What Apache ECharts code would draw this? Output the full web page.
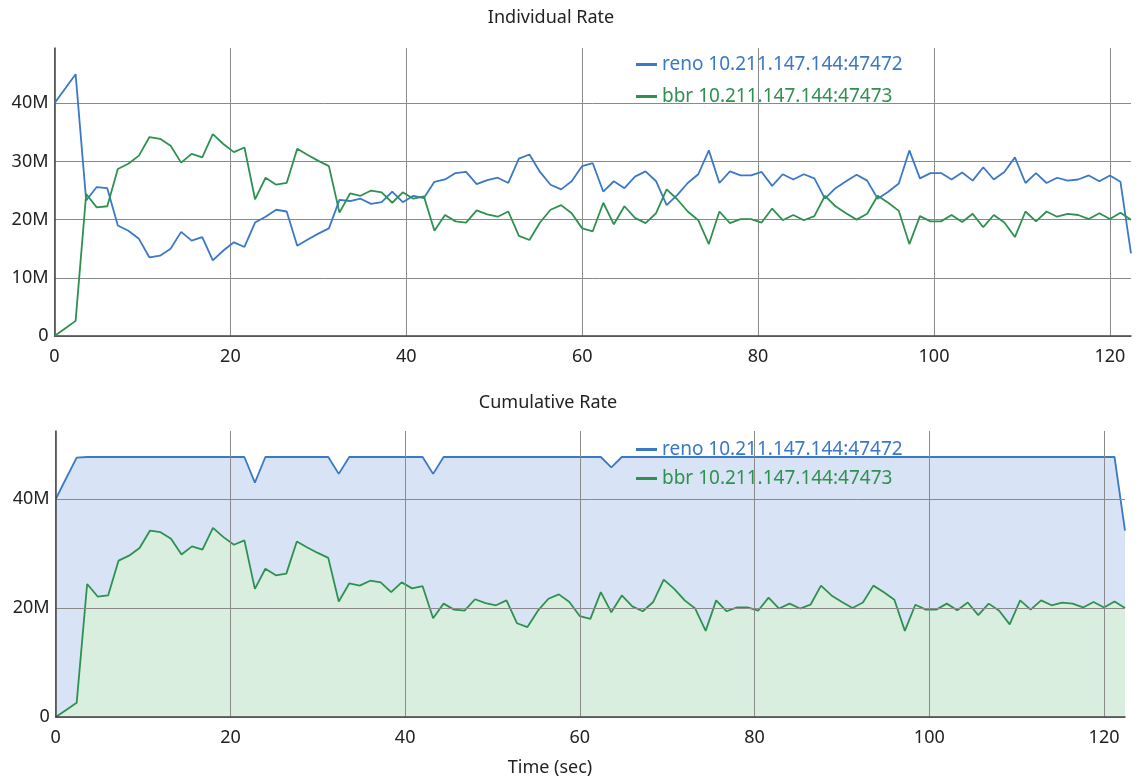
<!DOCTYPE html>
<html>
<head>
<meta charset="utf-8">
<script src="https://cdn.jsdelivr.net/npm/echarts@6/dist/echarts.min.js"></script>
<style>
  html, body { margin: 0; padding: 0; background: #fff; }
  #main { width: 1141px; height: 776px; }
</style>
</head>
<body>
<div id="main"></div>
<script>
// sample times (sec), one sample every ~1.2 s
var times = [
  0, 1.2, 2.4, 3.6, 4.8, 6, 7.2, 8.4, 9.6, 10.8,
  12, 13.2, 14.4, 15.6, 16.8, 18, 19.2, 20.4, 21.6, 22.8,
  24, 25.2, 26.4, 27.6, 28.8, 30, 31.2, 32.4, 33.6, 34.8,
  36, 37.2, 38.4, 39.6, 40.8, 42, 43.2, 44.4, 45.6, 46.8,
  48, 49.2, 50.4, 51.6, 52.8, 54, 55.2, 56.4, 57.6, 58.8,
  60, 61.2, 62.4, 63.6, 64.8, 66, 67.2, 68.4, 69.6, 70.8,
  72, 73.2, 74.4, 75.6, 76.8, 78, 79.2, 80.4, 81.6, 82.8,
  84, 85.2, 86.4, 87.6, 88.8, 90, 91.2, 92.4, 93.6, 94.8,
  96, 97.2, 98.4, 99.6, 100.8, 102, 103.2, 104.4, 105.6, 106.8,
  108, 109.2, 110.4, 111.6, 112.8, 114, 115.2, 116.4, 117.6, 118.8,
  120, 121.2, 122.4
]

// rates in Mbit/s
var renoRate = [
  40.0, 42.5, 45.0, 23.3, 25.6, 25.4, 19.0, 18.1, 16.7, 13.5,
  13.8, 15.0, 17.9, 16.4, 17.0, 13.0, 14.7, 16.1, 15.3, 19.5,
  20.5, 21.7, 21.4, 15.5, 16.6, 17.6, 18.5, 23.4, 23.2, 23.6,
  22.7, 23.0, 24.8, 23.0, 24.1, 23.7, 26.5, 26.9, 28.0, 28.2,
  26.1, 26.8, 27.2, 26.3, 30.5, 31.2, 28.2, 26.0, 25.2, 26.6,
  29.2, 29.7, 24.8, 26.6, 25.4, 27.4, 28.3, 26.6, 22.5, 24.2,
  26.3, 27.8, 31.9, 26.3, 28.3, 27.6, 27.6, 28.2, 25.8, 27.8,
  26.9, 27.8, 27.1, 23.6, 25.4, 26.6, 27.7, 26.7, 23.6, 24.8,
  26.2, 31.9, 27.1, 28.0, 28.0, 26.9, 28.1, 26.7, 29.0, 26.9,
  28.2, 30.7, 26.3, 28.0, 26.3, 27.2, 26.7, 26.9, 27.6, 26.6,
  27.6, 26.5, 14.2
]

var bbrRate = [
  0, 1.3, 2.6, 24.4, 22.1, 22.3, 28.7, 29.6, 31.0, 34.2,
  33.9, 32.7, 29.8, 31.3, 30.7, 34.7, 33.0, 31.6, 32.4, 23.5,
  27.2, 26.0, 26.3, 32.2, 31.1, 30.1, 29.2, 21.2, 24.5, 24.1,
  25.0, 24.7, 22.9, 24.7, 23.6, 24.0, 18.1, 20.8, 19.7, 19.5,
  21.6, 20.9, 20.5, 21.4, 17.2, 16.5, 19.5, 21.7, 22.5, 21.1,
  18.5, 18.0, 22.9, 19.2, 22.3, 20.3, 19.4, 21.1, 25.2, 23.5,
  21.4, 19.9, 15.8, 21.4, 19.4, 20.1, 20.1, 19.5, 21.9, 19.9,
  20.8, 19.9, 20.6, 24.1, 22.3, 21.1, 20.0, 21.0, 24.1, 22.9,
  21.5, 15.8, 20.6, 19.7, 19.7, 20.8, 19.6, 21.0, 18.7, 20.8,
  19.5, 17.0, 21.4, 19.7, 21.4, 20.5, 21.0, 20.8, 20.1, 21.1,
  20.1, 21.2, 20.0
]

var renoName = 'reno 10.211.147.144:47472'
var bbrName = 'bbr 10.211.147.144:47473'
var blue = '#3a78c8'
var green = '#2e9150'
var font = 'Noto Sans'

function pairs(vals) {
  return times.map(function (t, i) { return [t, vals[i]] })
}

var myChart = echarts.init(document.getElementById('main'))

function xAxisOf(idx) {
  return {
    type: 'value',
    gridIndex: idx,
    position: 'bottom',
    z: 5,
    min: 0,
    max: 122.4,
    interval: 20,
    axisLine: { lineStyle: { color: '#444', width: 1.5 } },
    axisTick: { show: false },
    axisLabel: { fontFamily: font, fontSize: 18, color: '#222', margin: 12, showMaxLabel: false },
    splitLine: { show: true, showMaxLine: false, lineStyle: { color: '#8a8a8a', width: 1 } }
  }
}

function yAxisOf(idx, step) {
  return {
    type: 'value',
    gridIndex: idx,
    z: 5,
    min: 0,
    max: function (v) { return v.max * 1.1 },
    interval: step,
    axisLine: { show: true, lineStyle: { color: '#444', width: 1.5 } },
    axisTick: { show: false },
    axisLabel: {
      fontFamily: font, fontSize: 18, color: '#222', margin: 6, showMaxLabel: false,
      formatter: function (v) { return v === 0 ? '0' : v + 'M' }
    },
    splitLine: { show: true, showMaxLine: false, lineStyle: { color: '#8a8a8a', width: 1 } }
  }
}

function legendOf(top, gap) {
  return {
    orient: 'vertical',
    left: 631,
    top: top,
    itemGap: gap,
    itemWidth: 21,
    itemHeight: 3,
    icon: 'rect',
    selectedMode: false,
    textStyle: { fontFamily: font, fontSize: 19 },
    data: [
      { name: renoName, textStyle: { color: blue } },
      { name: bbrName, textStyle: { color: green } }
    ]
  }
}

var titleStyle = { fontFamily: font, fontSize: 18, fontWeight: 'normal', color: '#222' }

var option = {
  animation: false,
  title: [
    { text: 'Individual Rate', left: 546, top: 4, textAlign: 'center', textStyle: titleStyle },
    { text: 'Cumulative Rate', left: 543, top: 389, textAlign: 'center', textStyle: titleStyle },
    { text: 'Time (sec)', left: 545, top: 754, textAlign: 'center', textStyle: titleStyle }
  ],
  legend: [legendOf(50, 13), legendOf(435, 10)],
  grid: [
    { left: 54.5, right: 10, top: 48, height: 288 },
    { left: 55.7, right: 16, top: 431, height: 286 }
  ],
  xAxis: [
    xAxisOf(0),
    // hidden sample axis for the stacked chart (stacks by sample index)
    { type: 'category', gridIndex: 1, show: false, boundaryGap: false, data: times },
    xAxisOf(1)
  ],
  yAxis: [yAxisOf(0, 10), yAxisOf(1, 20)],
  series: [
    {
      name: renoName, type: 'line', xAxisIndex: 0, yAxisIndex: 0, z: 6,
      data: pairs(renoRate), showSymbol: false,
      lineStyle: { color: blue, width: 1.8 }, itemStyle: { color: blue }
    },
    {
      name: bbrName, type: 'line', xAxisIndex: 0, yAxisIndex: 0, z: 6,
      data: pairs(bbrRate), showSymbol: false,
      lineStyle: { color: green, width: 1.8 }, itemStyle: { color: green }
    },
    // cumulative: bbr at the bottom, reno stacked on top
    {
      name: bbrName, type: 'line', xAxisIndex: 1, yAxisIndex: 1, stack: 'total', z: 2,
      data: bbrRate, showSymbol: false,
      lineStyle: { color: green, width: 1.8 }, itemStyle: { color: green },
      areaStyle: { color: '#d9eedf', opacity: 1 }
    },
    {
      name: renoName, type: 'line', xAxisIndex: 1, yAxisIndex: 1, stack: 'total', z: 1,
      data: renoRate, showSymbol: false,
      lineStyle: { color: blue, width: 1.8 }, itemStyle: { color: blue },
      areaStyle: { color: '#d8e4f5', opacity: 1 }
    }
  ]
}

myChart.setOption(option)
</script>
</body>
</html>
